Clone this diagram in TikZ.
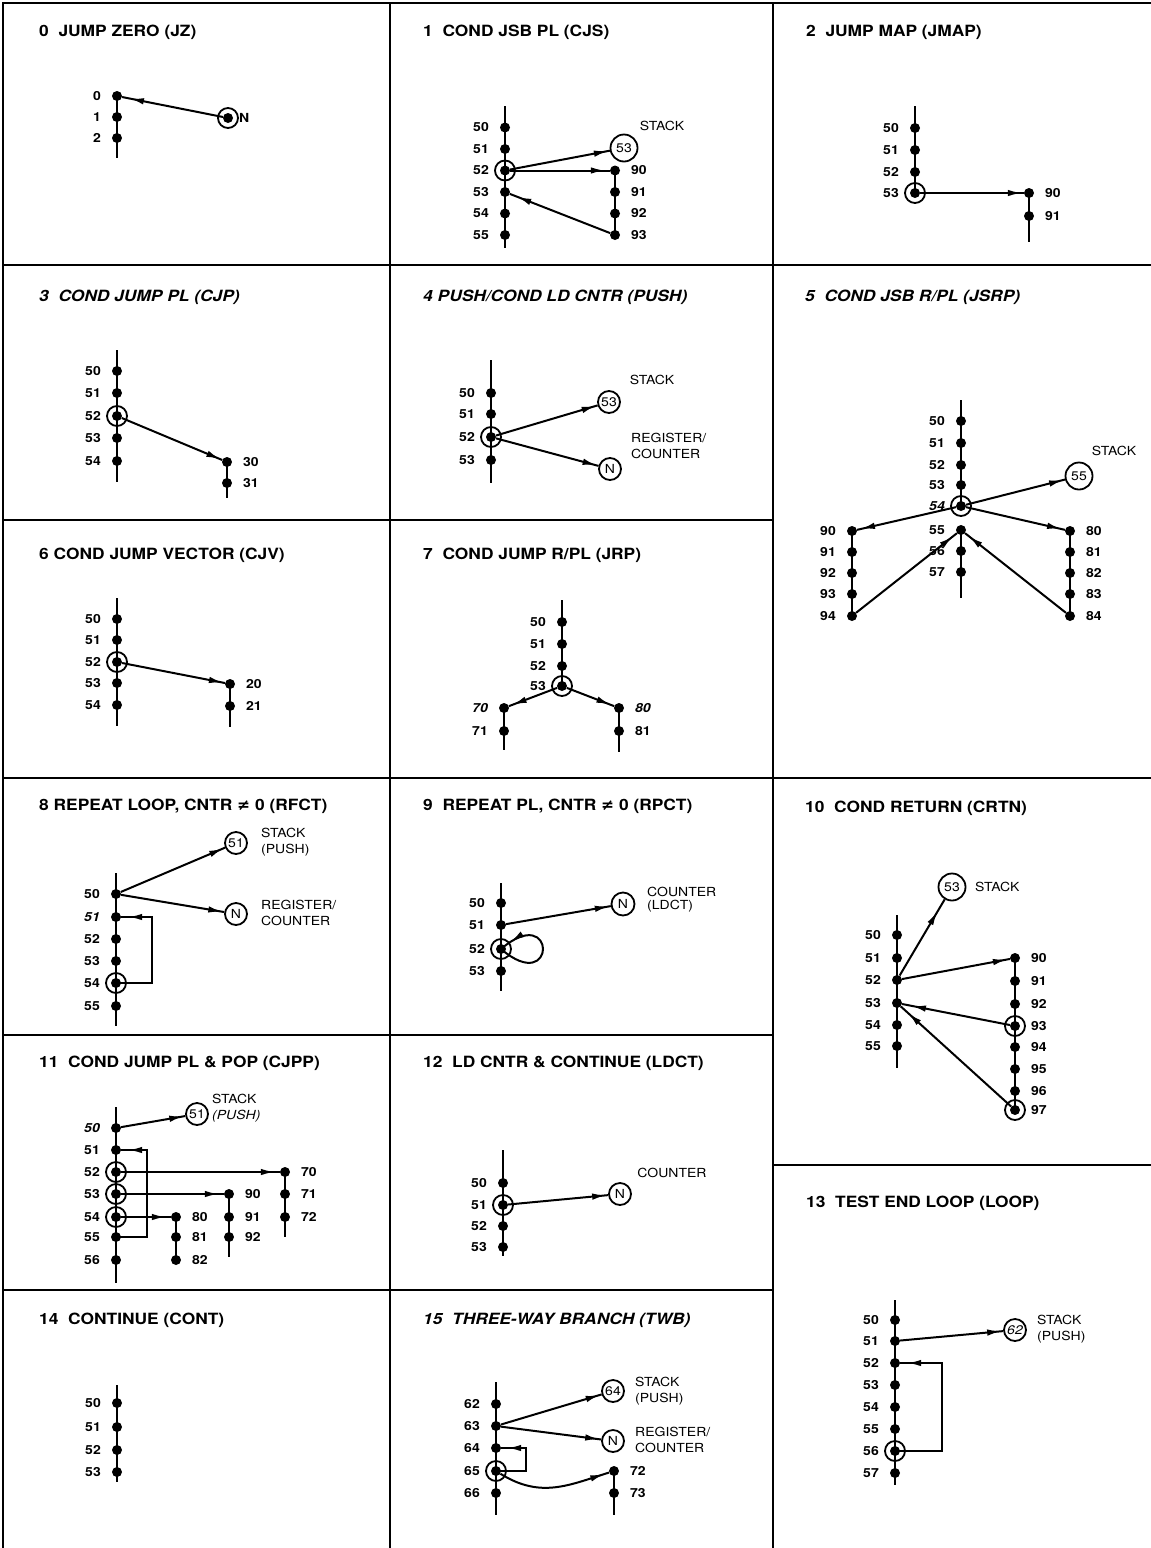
\documentclass[tikz,border=0pt]{standalone}
\usepackage{fontspec}
\setmainfont{TeX Gyre Heros}[FakeStretch=1.12]
\newfontfamily\symfont{DejaVu Sans}
\usetikzlibrary{arrows.meta,decorations.markings}
\newcommand\numfont{\fontsize{12.5}{14}\selectfont\bfseries}
\newcommand\annfont{\fontsize{12.5}{16}\selectfont}
\newcommand\ttlfont{\fontsize{15.5}{17}\selectfont\bfseries}
\newcommand\neqsym{{\symfont\bfseries ≠}}
\tikzset{
  dot/.style={circle,fill=black,inner sep=0pt,minimum size=10pt},
  ring/.style={circle,draw=black,line width=1.8pt,inner sep=0pt,minimum size=20pt},
  bub/.style={circle,draw=black,line width=1.8pt,inner sep=0pt,minimum size=22pt,font=\numfont\mdseries},
  num/.style={inner sep=0pt,font=\numfont},
  ann/.style={inner sep=0pt,font=\annfont,align=left},
  ttl/.style={inner sep=0pt,anchor=west,font=\ttlfont},
  itl/.style={inner sep=0pt,anchor=west,font=\ttlfont\itshape},
  ln/.style={line width=2pt},
  arr/.style={ln,postaction={decorate},decoration={markings,mark=at position -#1 with {\arrow{Latex[length=14pt,width=6.5pt]}}}},
  arr/.default=5pt,
  gridline/.style={line width=1.7pt}
}
\newcommand\mydotl[4]{\node[dot] (#1) at (#2,#3) {}; \node[num,anchor=east] (#1t) at (#2-16,#3) {#4};}
\newcommand\mydotr[4]{\node[dot] (#1) at (#2,#3) {}; \node[num,anchor=west] (#1t) at (#2+16,#3) {#4};}
\newcommand\myring[1]{\node[ring] (#1r) at (#1.center) {};}
\begin{document}
\begin{tikzpicture}[x=1pt,y=-1pt]
\useasboundingbox (0,0) rectangle (1151,1548);
% grid
\draw[gridline] (3,1548) -- (3,3) -- (1151,3);
\draw[gridline] (390,3) -- (390,1548);
\draw[gridline] (773,3) -- (773,1548);
\draw[gridline] (3,265) -- (1151,265);
\draw[gridline] (3,520) -- (773,520);
\draw[gridline] (3,778) -- (1151,778);
\draw[gridline] (3,1035) -- (773,1035);
\draw[gridline] (773,1165) -- (1151,1165);
\draw[gridline] (3,1290) -- (773,1290);
% titles
\node[ttl] (t0) at (39,32) {0\ \ JUMP ZERO (JZ)};
\node[ttl] (t1) at (423,32) {1\ \ COND JSB PL (CJS)};
\node[ttl] (t2) at (806,32) {2\ \ JUMP MAP (JMAP)};
\node[itl] (t3) at (39,297) {3\ \ COND JUMP PL (CJP)};
\node[itl] (t4) at (423,297) {4 PUSH/COND LD CNTR (PUSH)};
\node[itl] (t5) at (805,297) {5\ \ COND JSB R/PL (JSRP)};
\node[ttl] (t6) at (39,555) {6 COND JUMP VECTOR (CJV)};
\node[ttl] (t7) at (423,555) {7\ \ COND JUMP R/PL (JRP)};
\node[ttl] (t8) at (39,806) {8 REPEAT LOOP, CNTR \neqsym\ 0 (RFCT)};
\node[ttl] (t9) at (423,806) {9\ \ REPEAT PL, CNTR \neqsym\ 0 (RPCT)};
\node[ttl] (t10) at (805,808) {10\ \ COND RETURN (CRTN)};
\node[ttl] (t11) at (39,1063) {11\ \ COND JUMP PL \& POP (CJPP)};
\node[ttl] (t12) at (423,1063) {12\ \ LD CNTR \& CONTINUE (LDCT)};
\node[ttl] (t13) at (806,1203) {13\ \ TEST END LOOP (LOOP)};
\node[ttl] (t14) at (39,1320) {14\ \ CONTINUE (CONT)};
\node[itl] (t15) at (423,1320) {15\ \ THREE-WAY BRANCH (TWB)};

% ---------- panel 0
\mydotl{a0}{117}{96}{0}
\mydotl{a1}{117}{117}{1}
\mydotl{a2}{117}{138}{2}
\coordinate (a2e) at (117,158);
\draw[ln] (a0.center) -- (a2e);
\node[dot] (aN) at (228,118) {};
\myring{aN}
\node[num,anchor=west] (aNt) at (239,118) {N};
\draw[arr=8pt] (aN) -- (a0);

% ---------- panel 1
\coordinate (b0) at (505,106);
\coordinate (b9) at (505,248);
\draw[ln] (b0) -- (b9);
\mydotl{b50}{505}{127.5}{50}
\mydotl{b51}{505}{149}{51}
\mydotl{b52}{505}{170.5}{52}
\mydotl{b53}{505}{192}{53}
\mydotl{b54}{505}{213.5}{54}
\mydotl{b55}{505}{235}{55}
\myring{b52}
\node[bub,minimum size=27pt] (bS) at (624,148) {53};
\node[ann] (bSt) at (662,126) {STACK};
\mydotr{b90}{615}{170.5}{90}
\mydotr{b91}{615}{192}{91}
\mydotr{b92}{615}{213.5}{92}
\mydotr{b93}{615}{235}{93}
\draw[ln] (b90.center) -- (b93.center);
\draw[arr=2pt] (b52) -- (bS);
\draw[arr] (b52) -- (b90);
\draw[arr=8pt] (b93) -- (b53);

% ---------- panel 2
\coordinate (c0) at (915,106);
\mydotl{c50}{915}{128}{50}
\mydotl{c51}{915}{150}{51}
\mydotl{c52}{915}{172}{52}
\mydotl{c53}{915}{193}{53}
\draw[ln] (c0) -- (c53.center);
\myring{c53}
\mydotr{c90}{1029}{193}{90}
\mydotr{c91}{1029}{216}{91}
\coordinate (c9) at (1029,242);
\draw[ln] (c90.center) -- (c9);
\draw[arr=2pt] (c53) -- (c90);

% ---------- panel 3
\coordinate (d0) at (117,350);
\coordinate (d9) at (117,482);
\draw[ln] (d0) -- (d9);
\mydotl{d50}{117}{371}{50}
\mydotl{d51}{117}{393}{51}
\mydotl{d52}{117}{416}{52}
\mydotl{d53}{117}{438}{53}
\mydotl{d54}{117}{461}{54}
\myring{d52}
\mydotr{d30}{227}{462}{30}
\mydotr{d31}{227}{483}{31}
\coordinate (d39) at (227,498);
\draw[ln] (d30.center) -- (d39);
\draw[arr=2pt] (d52) -- (d30);

% ---------- panel 4
\coordinate (e0) at (491,360);
\coordinate (e9) at (491,483);
\draw[ln] (e0) -- (e9);
\mydotl{e50}{491}{393}{50}
\mydotl{e51}{491}{414}{51}
\mydotl{e52}{491}{437}{52}
\mydotl{e53}{491}{460}{53}
\myring{e52}
\node[bub] (eS) at (609,402) {53};
\node[ann] (eSt) at (652,380) {STACK};
\node[bub] (eN) at (610,469) {N};
\node[ann,anchor=west] (eNt) at (631,446) {REGISTER/\\COUNTER};
\draw[arr=2pt] (e52) -- (eS);
\draw[arr=2pt] (e52) -- (eN);

% ---------- panel 5
\coordinate (f0) at (961,400);
\mydotl{f50}{961}{421}{50}
\mydotl{f51}{961}{443}{51}
\mydotl{f52}{961}{465}{52}
\mydotl{f53}{961}{485}{53}
\mydotl{f54}{961}{506}{\itshape 54}
\draw[ln] (f0) -- (f54.center);
\myring{f54}
\mydotl{f55}{961}{530}{55}
\mydotl{f56}{961}{551}{56}
\mydotl{f57}{961}{572}{57}
\coordinate (f9) at (961,598);
\draw[ln] (f55.center) -- (f9);
\node[bub,minimum size=27pt] (fS) at (1079,476) {55};
\node[ann] (fSt) at (1114,451) {STACK};
\mydotl{f90}{852}{531}{90}
\mydotl{f91}{852}{552}{91}
\mydotl{f92}{852}{573}{92}
\mydotl{f93}{852}{594}{93}
\mydotl{f94}{852}{616}{94}
\draw[ln] (f90.center) -- (f94.center);
\mydotr{f80}{1070}{531}{80}
\mydotr{f81}{1070}{552}{81}
\mydotr{f82}{1070}{573}{82}
\mydotr{f83}{1070}{594}{83}
\mydotr{f84}{1070}{616}{84}
\draw[ln] (f80.center) -- (f84.center);
\draw[arr=2pt] (f54) -- (fS);
\draw[arr=4pt] (f54) -- (f90);
\draw[arr=4pt] (f54) -- (f80);
\draw[arr=5pt] (f94) -- (f55);
\draw[arr=5pt] (f84) -- (f55);

% ---------- panel 6
\coordinate (g0) at (117,598);
\coordinate (g9) at (117,726);
\draw[ln] (g0) -- (g9);
\mydotl{g50}{117}{619}{50}
\mydotl{g51}{117}{640}{51}
\mydotl{g52}{117}{662}{52}
\mydotl{g53}{117}{683}{53}
\mydotl{g54}{117}{705}{54}
\myring{g52}
\mydotr{g20}{230}{684}{20}
\mydotr{g21}{230}{706}{21}
\coordinate (g29) at (230,727);
\draw[ln] (g20.center) -- (g29);
\draw[arr=2pt] (g52) -- (g20);

% ---------- panel 7
\coordinate (h0) at (562,600);
\mydotl{h50}{562}{622}{50}
\mydotl{h51}{562}{644}{51}
\mydotl{h52}{562}{666}{52}
\mydotl{h53}{562}{686}{53}
\draw[ln] (h0) -- (h53.center);
\myring{h53}
\mydotl{h70}{504}{708}{\itshape 70}
\mydotl{h71}{504}{731}{71}
\coordinate (h79) at (504,750);
\draw[ln] (h70.center) -- (h79);
\mydotr{h80}{619}{708}{\itshape 80}
\mydotr{h81}{619}{731}{81}
\coordinate (h89) at (619,752);
\draw[ln] (h80.center) -- (h89);
\draw[arr=4pt] (h53) -- (h70);
\draw[arr=4pt] (h53) -- (h80);

% ---------- panel 8
\coordinate (i0) at (116,873);
\coordinate (i9) at (116,1026);
\draw[ln] (i0) -- (i9);
\mydotl{i50}{116}{894}{50}
\mydotl{i51}{116}{917}{\itshape 51}
\mydotl{i52}{116}{939}{52}
\mydotl{i53}{116}{961}{53}
\mydotl{i54}{116}{983}{54}
\mydotl{i55}{116}{1006}{55}
\myring{i54}
\node[bub] (iS) at (236,843) {51};
\node[ann,anchor=west] (iSt) at (261,842) {STACK\\(PUSH)};
\node[bub] (iN) at (236,914) {N};
\node[ann,anchor=west] (iNt) at (261,913) {REGISTER/\\COUNTER};
\draw[arr=2pt] (i50) -- (iS);
\draw[arr=2pt] (i50) -- (iN);
\coordinate (iL) at (152,917);
\draw[arr=7pt] (i54.center) -| (iL) -- (i51);

% ---------- panel 9
\coordinate (j0) at (501,883);
\coordinate (j9) at (501,991);
\draw[ln] (j0) -- (j9);
\mydotl{j50}{501}{903}{50}
\mydotl{j51}{501}{925}{51}
\mydotl{j52}{501}{949}{52}
\mydotl{j53}{501}{971}{53}
\myring{j52}
\node[bub,minimum size=23pt] (jN) at (623,904) {N};
\node[ann,anchor=west,font=\fontsize{12.5}{13}\selectfont] (jNt) at (647,900) {COUNTER\\(LDCT)};
\draw[arr=2pt] (j51) -- (jN);
\draw[arr=12pt] (j52.center) .. controls +(56,48) and +(56,-48) .. (j52.center);

% ---------- panel 10
\coordinate (k0) at (897,915);
\coordinate (k9) at (897,1068);
\draw[ln] (k0) -- (k9);
\mydotl{k50}{897}{935}{50}
\mydotl{k51}{897}{958}{51}
\mydotl{k52}{897}{980}{52}
\mydotl{k53}{897}{1003}{53}
\mydotl{k54}{897}{1025}{54}
\mydotl{k55}{897}{1046}{55}
\node[bub,minimum size=27pt] (kS) at (952,887) {53};
\node[ann,anchor=west] (kSt) at (975,887) {STACK};
\mydotr{k90}{1015}{958}{90}
\mydotr{k91}{1015}{981}{91}
\mydotr{k92}{1015}{1004}{92}
\mydotr{k93}{1015}{1026}{93}
\mydotr{k94}{1015}{1047}{94}
\mydotr{k95}{1015}{1069}{95}
\mydotr{k96}{1015}{1091}{96}
\mydotr{k97}{1015}{1110}{97}
\draw[ln] (k90.center) -- (k97.center);
\myring{k93}
\myring{k97}
\draw[arr=14pt] (k52) -- (kS);
\draw[arr=3pt] (k52) -- (k90);
\draw[arr=10pt] (k93) -- (k53);
\draw[arr=10pt] (k97) -- (k53);

% ---------- panel 11
\coordinate (l0) at (116,1107);
\coordinate (l9) at (116,1283);
\draw[ln] (l0) -- (l9);
\mydotl{l50}{116}{1128}{\itshape 50}
\mydotl{l51}{116}{1150}{51}
\mydotl{l52}{116}{1172}{52}
\mydotl{l53}{116}{1194}{53}
\mydotl{l54}{116}{1217}{54}
\mydotl{l55}{116}{1237}{55}
\mydotl{l56}{116}{1260}{56}
\myring{l52}
\myring{l53}
\myring{l54}
\node[bub] (lS) at (197,1114) {51};
\node[ann,anchor=west] (lSt) at (212,1108) {STACK\\\textit{(PUSH)}};
\draw[arr=2pt] (l50) -- (lS);
\coordinate (lL) at (147,1150);
\draw[arr=7pt] (l55.center) -| (lL) -- (l51);
\mydotr{l70}{285}{1172}{70}
\mydotr{l71}{285}{1194}{71}
\mydotr{l72}{285}{1217}{72}
\coordinate (l79) at (285,1237);
\draw[ln] (l70.center) -- (l79);
\mydotr{l90}{229}{1194}{90}
\mydotr{l91}{229}{1217}{91}
\mydotr{l92}{229}{1237}{92}
\coordinate (l99) at (229,1257);
\draw[ln] (l90.center) -- (l99);
\mydotr{l80}{176}{1217}{80}
\mydotr{l81}{176}{1237}{81}
\mydotr{l82}{176}{1260}{82}
\draw[ln] (l80.center) -- (l82.center);
\draw[arr=5pt] (l52) -- (l70);
\draw[arr=5pt] (l53) -- (l90);
\draw[arr=5pt] (l54) -- (l80);

% ---------- panel 12
\coordinate (m0) at (503,1150);
\coordinate (m9) at (503,1256);
\draw[ln] (m0) -- (m9);
\mydotl{m50}{503}{1183}{50}
\mydotl{m51}{503}{1205}{51}
\mydotl{m52}{503}{1226}{52}
\mydotl{m53}{503}{1247}{53}
\myring{m51}
\node[bub] (mN) at (620,1194) {N};
\node[ann] (mNt) at (672,1173) {COUNTER};
\draw[arr=2pt] (m51) -- (mN);

% ---------- panel 13
\coordinate (n0) at (895,1300);
\coordinate (n9) at (895,1485);
\draw[ln] (n0) -- (n9);
\mydotl{n50}{895}{1320}{50}
\mydotl{n51}{895}{1341}{51}
\mydotl{n52}{895}{1363}{52}
\mydotl{n53}{895}{1385}{53}
\mydotl{n54}{895}{1407}{54}
\mydotl{n55}{895}{1429}{55}
\mydotl{n56}{895}{1451}{56}
\mydotl{n57}{895}{1473}{57}
\myring{n56}
\node[bub] (nS) at (1015,1330) {\itshape 62};
\node[ann,anchor=west] (nSt) at (1037,1329) {STACK\\(PUSH)};
\draw[arr=2pt] (n51) -- (nS);
\coordinate (nL) at (942,1363);
\draw[arr=7pt] (n56.center) -| (nL) -- (n52);

% ---------- panel 14
\coordinate (o0) at (117,1385);
\coordinate (o9) at (117,1482);
\draw[ln] (o0) -- (o9);
\mydotl{o50}{117}{1403}{50}
\mydotl{o51}{117}{1427}{51}
\mydotl{o52}{117}{1450}{52}
\mydotl{o53}{117}{1472}{53}

% ---------- panel 15
\coordinate (q0) at (496,1382);
\coordinate (q9) at (496,1515);
\draw[ln] (q0) -- (q9);
\mydotl{q62}{496}{1404}{62}
\mydotl{q63}{496}{1426}{63}
\mydotl{q64}{496}{1448}{64}
\mydotl{q65}{496}{1471}{65}
\mydotl{q66}{496}{1493}{66}
\myring{q65}
\node[bub] (qS) at (613,1391) {64};
\node[ann,anchor=west] (qSt) at (635,1391) {STACK\\(PUSH)};
\node[bub] (qN) at (613,1441) {N};
\node[ann,anchor=west] (qNt) at (635,1440) {REGISTER/\\COUNTER};
\draw[arr=2pt] (q63) -- (qS);
\draw[arr=2pt] (q63) -- (qN);
\coordinate (qL) at (526,1448);
\draw[arr=6pt] (q65.center) -| (qL) -- (q64);
\mydotr{q72}{614}{1471}{72}
\mydotr{q73}{614}{1493}{73}
\coordinate (q79) at (614,1515);
\draw[ln] (q72.center) -- (q79);
\draw[arr=5pt] (q65) .. controls +(45,28) and +(-45,14) .. (q72);
\end{tikzpicture}
\end{document}
